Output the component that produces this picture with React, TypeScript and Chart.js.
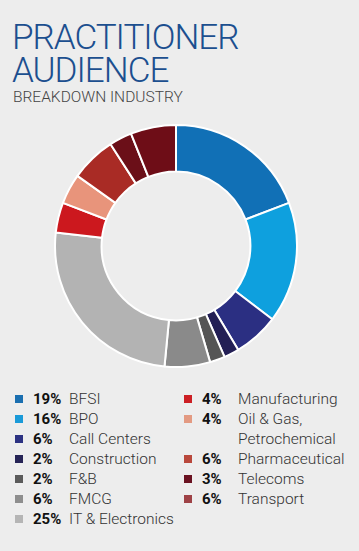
import React, { useEffect, useRef } from "react";
import { Chart, registerables } from "chart.js";

Chart.register(...registerables);

const categories = [
  "BFSI",
  "BPO",
  "Call Centers",
  "Construction",
  "F&B",
  "FMCG",
  "IT & Electronics",
  "Manufacturing",
  "Oil & Gas, Petrochemical",
  "Pharmaceutical",
  "Telecoms",
  "Transport",
];
const values = [19, 16, 6, 2, 2, 6, 25, 4, 4, 6, 3, 6];
const sliceColors = [
  "#1170b6",
  "#0ea0de",
  "#2b2f82",
  "#231f55",
  "#555555",
  "#8a8a8a",
  "#b3b3b3",
  "#cc181e",
  "#e8947b",
  "#a92b25",
  "#6b0f18",
  "#6e0d17",
];
const legendColors = [
  "#1a6fb0",
  "#1a9ad8",
  "#2c3282",
  "#262456",
  "#5b5b5b",
  "#8e8e8e",
  "#b5b5b5",
  "#cc1f24",
  "#e39a82",
  "#b9483c",
  "#6a1221",
  "#9e4246",
];
const legendLabelLines = [
  ["BFSI"],
  ["BPO"],
  ["Call Centers"],
  ["Construction"],
  ["F&B"],
  ["FMCG"],
  ["IT & Electronics"],
  ["Manufacturing"],
  ["Oil & Gas,", "Petrochemical"],
  ["Pharmaceutical"],
  ["Telecoms"],
  ["Transport"],
];
const leftColumn = [0, 1, 2, 3, 4, 5, 6];
const rightColumn = [7, 8, 9, 10, 11];

const titleLines = ["PRACTITIONER", "AUDIENCE"];
const subtitle = "BREAKDOWN INDUSTRY";

export default function App() {
  const ref = useRef<HTMLCanvasElement | null>(null);

  useEffect(() => {
    document.body.style.margin = "0";
    const chart = new Chart(ref.current!, {
      type: "doughnut",
      data: {
        labels: categories,
        datasets: [
          {
            data: values,
            backgroundColor: sliceColors,
            borderColor: "#ffffff",
            borderWidth: 2,
          },
        ],
      },
      options: {
        responsive: false,
        animation: false,
        cutout: "61.5%",
        layout: { padding: 0 },
        plugins: {
          legend: { display: false },
          tooltip: { enabled: false },
        },
      },
    });
    return () => chart.destroy();
  }, []);

  const font = "Roboto, 'DejaVu Sans', sans-serif";

  const renderRow = (i: number, top: number, left: number, pctW: number) => (
    <div key={i} style={{ position: "absolute", left, top, display: "flex", alignItems: "flex-start" }}>
      <div style={{ width: 8, height: 8, background: legendColors[i], marginTop: 6, marginRight: 10 }} />
      <div style={{ width: pctW, fontWeight: 700, color: "#111", fontSize: 15, lineHeight: "20px" }}>
        {values[i]}%
      </div>
      <div style={{ color: "#333", fontSize: 15.5, lineHeight: "20px", fontWeight: 300 }}>
        {legendLabelLines[i].map((l, k) => (
          <div key={k}>{l}</div>
        ))}
      </div>
    </div>
  );

  let rTop = 389;
  const rightRows = rightColumn.map((i) => {
    const el = renderRow(i, rTop, 184, 36);
    rTop += 20 * legendLabelLines[i].length;
    return el;
  });

  return (
    <div
      style={{
        position: "absolute",
        left: 0,
        top: 0,
        width: 359,
        height: 551,
        background: "#ededed",
        fontFamily: font,
        overflow: "hidden",
      }}
    >
      <div
        style={{
          position: "absolute",
          left: 12,
          top: 21,
          color: "#1c4f8f",
          fontSize: 35,
          lineHeight: "33px",
          fontWeight: 300,
          letterSpacing: -1,
          whiteSpace: "nowrap",
        }}
      >
        {titleLines.map((t, k) => (
          <div key={k}>{t}</div>
        ))}
      </div>
      <div
        style={{
          position: "absolute",
          left: 13,
          top: 88,
          color: "#444",
          fontSize: 15.5,
          fontWeight: 300,
          whiteSpace: "nowrap",
        }}
      >
        {subtitle}
      </div>
      <canvas
        ref={ref}
        width={244}
        height={244}
        style={{ position: "absolute", left: 54, top: 124, width: 244, height: 244 }}
      />
      {leftColumn.map((i, k) => renderRow(i, 389 + k * 20, 15, 36))}
      {rightRows}
    </div>
  );
}
